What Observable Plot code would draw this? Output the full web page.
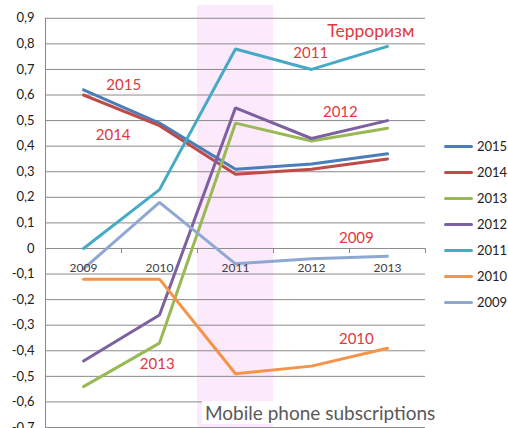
<!DOCTYPE html>
<html>
<head>
<meta charset="utf-8">
<script src="https://cdn.jsdelivr.net/npm/d3@7"></script>
<script src="https://cdn.jsdelivr.net/npm/@observablehq/plot@0.6"></script>
<style>
  html, body { margin: 0; padding: 0; background: #fff; }
  #wrap { position: relative; width: 508px; height: 428px; font-family: Lato, "Open Sans", sans-serif; }
  #legend { position: absolute; left: 444px; top: 133px; }
  .item { display: flex; align-items: center; height: 26px; font-size: 13px; color: #222; }
  .sw { width: 29px; height: 3px; border-radius: 2px; margin-right: 4px; }
  #subtitle { position: absolute; left: 202px; top: 401px; background: #fff; padding: 0 3px; font-size: 19px; color: #595959; line-height: 23px; }
</style>
</head>
<body>
<div id="wrap"></div>
<script>
const years = [2009, 2010, 2011, 2012, 2013];
const seriesNames = ["2015", "2014", "2013", "2012", "2011", "2010", "2009"];
const colors = ["#4a7ebb", "#be4b48", "#98b954", "#7d60a0", "#46aac5", "#f59447", "#8fa8d2"];
const s2015 = [0.62, 0.49, 0.31, 0.33, 0.37];
const s2014 = [0.60, 0.48, 0.29, 0.31, 0.35];
const s2013 = [-0.54, -0.37, 0.49, 0.42, 0.47];
const s2012 = [-0.44, -0.26, 0.55, 0.43, 0.50];
const s2011 = [0.00, 0.23, 0.78, 0.70, 0.79];
const s2010 = [-0.12, -0.12, -0.49, -0.46, -0.39];
const s2009 = [-0.08, 0.18, -0.06, -0.04, -0.03];
const seriesValues = [s2015, s2014, s2013, s2012, s2011, s2010, s2009];
const yTicks = [-0.7, -0.6, -0.5, -0.4, -0.3, -0.2, -0.1, 0, 0.1, 0.2, 0.3, 0.4, 0.5, 0.6, 0.7, 0.8, 0.9];
const highlightYear = 2011;
const title = "Терроризм";
const subtitle = "Mobile phone subscriptions";
const annoText = ["2015", "2014", "2013", "2011", "2012", "2009", "2010"];
const annoX = [2009.53, 2009.39, 2009.97, 2011.99, 2012.38, 2012.59, 2012.59];
const annoY = [0.638, 0.443, -0.452, 0.763, 0.533, 0.04, -0.355];

const rows = [];
seriesNames.forEach((s, i) => years.forEach((y, j) => rows.push({series: s, year: y, value: seriesValues[i][j]})));
const annos = annoText.map((t, i) => ({text: t, x: annoX[i], y: annoY[i]}));
const bounds = years.map(y => y + 0.5);

const chart = Plot.plot({
  width: 508, height: 428,
  marginLeft: 45, marginRight: 83, marginTop: 5, marginBottom: 1,
  style: {fontFamily: "Lato, 'Open Sans', sans-serif", background: "transparent"},
  x: {domain: [years[0] - 0.5, years[years.length - 1] + 0.5], axis: null},
  y: {domain: [-0.7, 0.95], axis: null},
  color: {domain: seriesNames, range: colors},
  marks: [
    Plot.rect([highlightYear], {x1: d => d - 0.5, x2: d => d + 0.5, fill: "#fce9fc"}),
    Plot.ruleY(yTicks, {stroke: "#8a8a8a", strokeWidth: 1}),
    Plot.ruleX([years[0] - 0.5], {y1: yTicks[0], y2: yTicks[yTicks.length - 1], stroke: "#8a8a8a"}),
    Plot.ruleX(bounds, {y1: 0, y2: -0.02, stroke: "#8a8a8a"}),
    Plot.axisY({ticks: yTicks, tickSize: 0, tickPadding: 11, fontSize: 13, tickFormat: d => String(d).replace(".", ","), fill: "#222"}),
    Plot.line(rows, {x: "year", y: "value", z: "series", stroke: "series", strokeWidth: 3, strokeLinejoin: "miter"}),
    Plot.text(years, {x: d => d, y: 0, dy: 20, text: d => String(d), fontSize: 12, fill: "#404040"}),
    Plot.text(annos, {x: "x", y: "y", text: "text", fill: "#e0393e", fontSize: 15}),
    Plot.text([title], {x: 2012.78, y: 0.85, text: d => d, fill: "#e0393e", fontSize: 17.5})
  ]
});

const wrap = document.getElementById("wrap");
wrap.appendChild(chart);
const legend = document.createElement("div");
legend.id = "legend";
seriesNames.forEach((s, i) => {
  const it = document.createElement("div");
  it.className = "item";
  const sw = document.createElement("span");
  sw.className = "sw";
  sw.style.background = colors[i];
  it.appendChild(sw);
  it.appendChild(document.createTextNode(s));
  legend.appendChild(it);
});
wrap.appendChild(legend);
const sub = document.createElement("div");
sub.id = "subtitle";
sub.textContent = subtitle;
wrap.appendChild(sub);
</script>
</body>
</html>
